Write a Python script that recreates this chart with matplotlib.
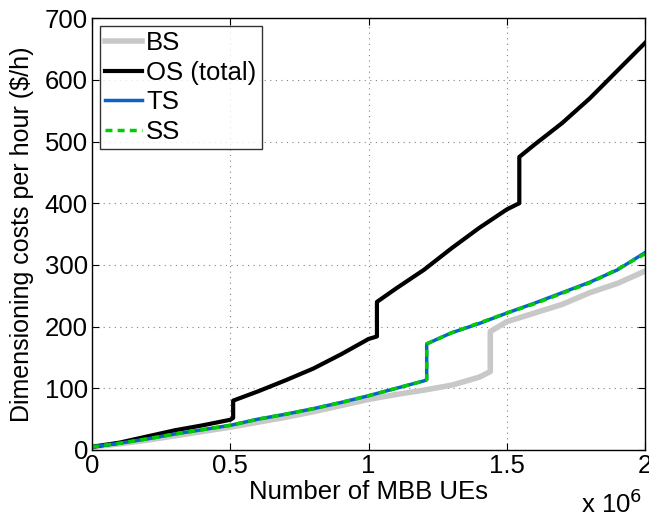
import matplotlib.pyplot as plt
import numpy as np

plt.rcParams['font.family'] = ['Liberation Sans', 'DejaVu Sans']

# number of MBB UEs (in units of 1e6)
x_os = [0, 0.1, 0.2, 0.3, 0.4, 0.5, 0.51, 0.51, 0.6, 0.7, 0.8, 0.9, 1.0, 1.03, 1.03,
        1.1, 1.2, 1.3, 1.4, 1.5, 1.545, 1.545, 1.6, 1.7, 1.8, 1.9, 2.0]
os_total = [5, 12, 22, 32, 40, 49, 52, 80, 95, 113, 132, 155, 180, 184, 240,
            262, 292, 327, 360, 390, 400, 475, 495, 530, 570, 615, 660]

x_bs = [0, 0.1, 0.2, 0.3, 0.4, 0.5, 0.6, 0.7, 0.8, 0.9, 1.0, 1.1, 1.2, 1.3, 1.4,
        1.44, 1.44, 1.5, 1.6, 1.7, 1.8, 1.9, 2.0]
bs = [5, 10, 16, 23, 30, 37, 45, 53, 62, 72, 82, 90, 97, 105, 118,
      127, 192, 208, 222, 236, 255, 270, 290]

x_ts = [0, 0.1, 0.2, 0.3, 0.4, 0.5, 0.6, 0.7, 0.8, 0.9, 1.0, 1.1, 1.2, 1.21, 1.21,
        1.3, 1.4, 1.5, 1.6, 1.7, 1.8, 1.9, 2.0]
ts = [5, 11, 18, 26, 33, 40, 50, 58, 67, 77, 88, 100, 112, 114, 172,
      190, 205, 222, 238, 255, 272, 292, 320]
ss = [5, 11, 18, 26, 33, 40, 50, 58, 67, 77, 88, 100, 112, 114, 172,
      190, 206, 222, 237, 254, 271, 293, 318]

fs = 18.5

fig = plt.figure(figsize=(6.49, 5.19), dpi=100)
ax = fig.add_axes([0.142, 0.133, 0.852, 0.832])

ax.plot(x_bs, bs, color='#c8c8c8', linewidth=4, label='BS')
ax.plot(x_os, os_total, color='black', linewidth=3, label='OS (total)')
ax.plot(x_ts, ts, color='#0a64c8', linewidth=2.5, label='TS')
ax.plot(x_ts, ss, color='#00cc00', linewidth=2.5, linestyle=(0, (2, 1.5)), label='SS')

ax.set_xlim(0, 2)
ax.set_ylim(0, 700)
ax.set_xticks([0, 0.5, 1, 1.5, 2])
ax.set_xticklabels(['0', '0.5', '1', '1.5', '2'])
ax.set_yticks(np.arange(0, 701, 100))
ax.grid(True, color='#808080', linestyle=(0, (1, 4)), linewidth=0.8)
ax.tick_params(direction='in', top=True, right=True, labelsize=fs, length=5, pad=3)
for s in ax.spines.values():
    s.set_linewidth(1.0)

ax.set_xlabel('Number of MBB UEs', fontsize=fs, labelpad=1)
ax.set_ylabel('Dimensioning costs per hour (\\$/h)', fontsize=18, labelpad=8)
ax.text(0.94, -0.092, r'x 10$^6$', transform=ax.transAxes, fontsize=fs, ha='center', va='top')

leg = ax.legend(loc='upper left', fontsize=fs, frameon=True, fancybox=False,
                handlelength=1.45, handletextpad=0.15, borderpad=0.2, labelspacing=0.22,
                borderaxespad=0.3)
leg.get_frame().set_edgecolor('black')
leg.get_frame().set_linewidth(1.0)

fig.savefig('out.png', dpi=100)
